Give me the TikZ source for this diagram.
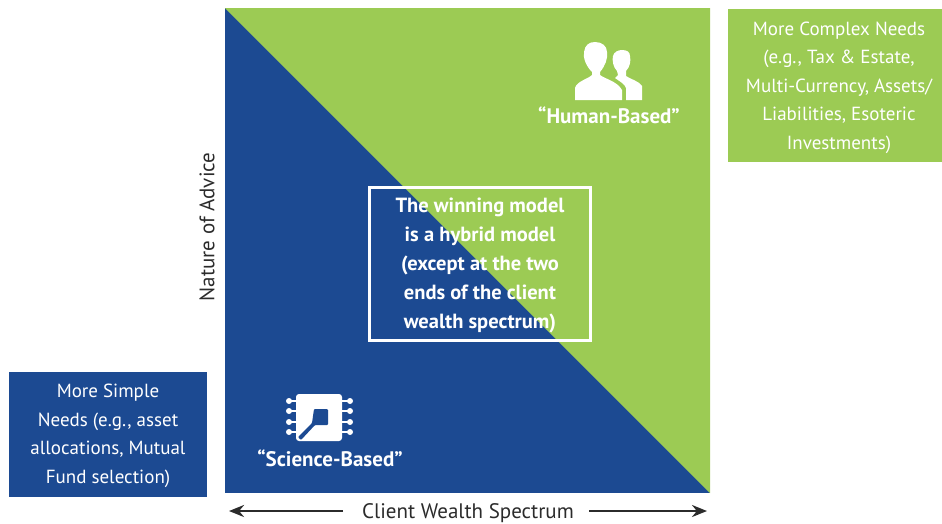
\documentclass[tikz,border=0pt]{standalone}
\usepackage{fontspec}
\setmainfont{PT Sans}
\usetikzlibrary{arrows.meta}
\definecolor{navy}{HTML}{1C4A92}
\definecolor{leaf}{HTML}{9CCB54}
\definecolor{ink}{HTML}{2B2B2B}
\tikzset{
  x=1pt,y=-1pt,
  txt/.style={font=\fontsize{19}{28.6}\selectfont,align=center,inner sep=0pt},
  whitetxt/.style={txt,text=white},
  boldtxt/.style={whitetxt,font=\fontsize{20.5}{29.1}\selectfont\bfseries},
  labeltxt/.style={whitetxt,font=\fontsize{21}{28}\selectfont\bfseries},
  axistxt/.style={txt,text=ink,font=\fontsize{21}{28}\selectfont},
  arrowline/.style={draw=ink,line width=2.6pt,-{Stealth[length=15pt,width=12pt]}},
}
\begin{document}
\begin{tikzpicture}
\useasboundingbox (0,0) rectangle (942,523);
\fill[navy] (225,8) rectangle (710,493);
\fill[leaf] (225,8) -- (710,8) -- (710,493) -- cycle;
\fill[navy] (9,372) rectangle (207,497);
\fill[leaf] (728,9) rectangle (942,162);
\node[whitetxt] (simple) at (108,436) {More Simple\\Needs (e.g., asset\\allocations, Mutual\\Fund selection)};
\node[whitetxt] (complex) at (839,87.7) {More Complex Needs\\(e.g., Tax \& Estate,\\Multi-Currency, Assets/\\Liabilities, Esoteric\\Investments)};
\draw[white,line width=2.6pt] (369.5,187.5) rectangle (590.5,340.5);
\node[boldtxt] (win) at (480,265.5) {The winning model\\is a hybrid model\\(except at the two\\ends of the client\\wealth spectrum)};
\node[labeltxt] (human) at (609,115.5) {“Human-Based”};
\node[labeltxt] (science) at (330,458) {“Science-Based”};
\node[axistxt,rotate=90] (nature) at (207,227) {Nature of Advice};
\node[axistxt] (spectrum) at (468,513) {Client Wealth Spectrum};
\coordinate (leftend) at (229,511);
\coordinate (rightend) at (707,511);
\draw[arrowline] (343,511) -- (leftend);
\draw[arrowline] (589,511) -- (rightend);
% people icon
\fill[white] (575,100) -- (575,88) .. controls (577,81) and (588,79) .. (592,75) -- (592,72)
  .. controls (586,66) and (583,58) .. (584,52) .. controls (585,45) and (589,42) .. (595,42)
  .. controls (602,42) and (607,46) .. (607,52) .. controls (608,59) and (605,66) .. (600,72)
  -- (600,75) .. controls (605,79) and (617,81) .. (622,90) -- (622,100) -- cycle;
\fill[white] (626,100) -- (626,88) .. controls (625,84) and (619,81) .. (615,78) -- (618,75) -- (617,71)
  .. controls (613,67) and (612,60) .. (613,56) .. controls (614,52) and (618,50) .. (622,50)
  .. controls (627,50) and (630,52) .. (630,56) .. controls (631,61) and (630,67) .. (626,71)
  -- (626,76) .. controls (630,79) and (639,81) .. (642,86) -- (642,100) -- cycle;
% chip icon
\fill[white,rounded corners=3pt] (296,394) -- (342,394) -- (342,441) -- (296,441) -- cycle;
\fill[navy,rounded corners=1pt] (314,409) -- (328,409) -- (328,425) -- (315,425) -- (301,440) -- (298,437) -- (312,423) -- cycle;
\foreach \yy in {401,411,422,432}{
  \draw[white,line width=1.8pt] (289,\yy) -- (296,\yy);
  \draw[white,line width=1.8pt] (342,\yy) -- (350,\yy);
  \fill[white] (289,\yy) circle (3pt);
  \fill[white] (350,\yy) circle (3pt);
}
\end{tikzpicture}
\end{document}
